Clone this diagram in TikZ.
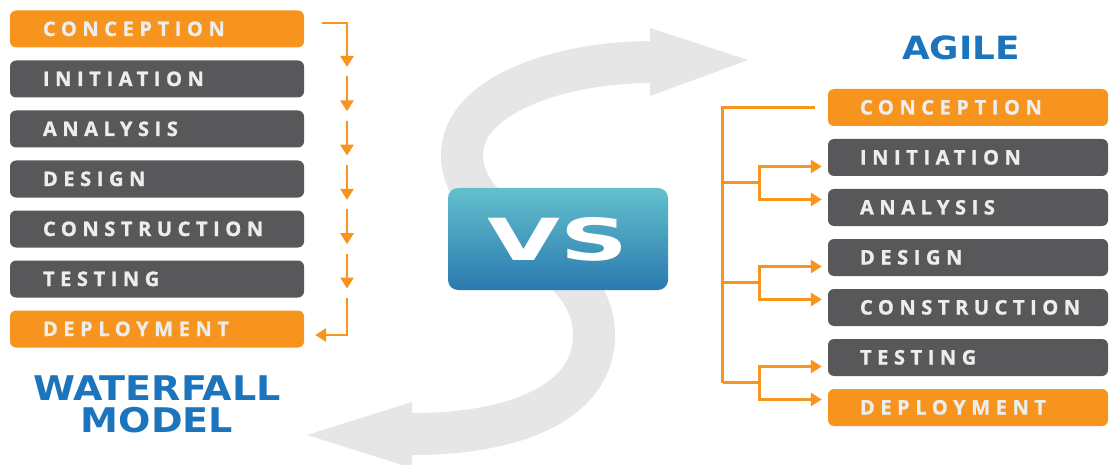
\documentclass[tikz,border=0pt]{standalone}
\usepackage{fontspec}
\usepackage{graphicx}
\usetikzlibrary{arrows.meta,calc}
\definecolor{wforange}{HTML}{F7941D}
\definecolor{wfgray}{HTML}{58585A}
\definecolor{wftext}{HTML}{EDEDED}
\definecolor{wfblue}{HTML}{1C75BC}
\definecolor{vstop}{HTML}{63BFCC}
\definecolor{vsbottom}{HTML}{2A7AB0}
\definecolor{bandgray}{HTML}{E6E6E6}
\newfontfamily\stepfont[LetterSpace=28, BoldFeatures={FakeBold=1.3}]{Open Sans}
\newfontfamily\titlefont[FakeStretch=1.12]{DejaVu Sans}
\tikzstyle{phase}=[rounded corners=6pt, minimum height=37pt, text height=14pt, text depth=0pt, align=left, text=wftext, font=\stepfont\bfseries\fontsize{20}{20}\selectfont]
\tikzstyle{wphase}=[phase, text width=228pt, inner xsep=33pt]
\tikzstyle{aphase}=[phase, text width=216pt, inner xsep=32pt]
\tikzstyle{link}=[draw=wforange, line width=2.8pt]
\tikzstyle{flow}=[link, -{Triangle[width=13pt,length=11pt]}]
\tikzstyle{fork}=[link, {Triangle[width=13pt,length=11pt]}-{Triangle[width=13pt,length=11pt]}]
\tikzstyle{modelname}=[text=wfblue, align=center, inner sep=0pt]

\begin{document}
\begin{tikzpicture}[x=1pt, y=-1pt]
    \useasboundingbox (0,0) rectangle (1110,465);
    \draw[bandgray, line width=42pt] (652,62) .. controls (560,62) and (462,95) .. (462,155)
        .. controls (462,230) and (594,250) .. (594,335) .. controls (594,400) and (520,434) .. (412,434);
    \fill[bandgray] (650,28) -- (748,60) -- (650,96) -- cycle;
    \fill[bandgray] (412,402) -- (307,435) -- (412,468) -- cycle;
    \foreach \name/\col [count=\i] in {CONCEPTION/wforange, INITIATION/wfgray, ANALYSIS/wfgray, DESIGN/wfgray, CONSTRUCTION/wfgray, TESTING/wfgray, DEPLOYMENT/wforange}
        \node[wphase, fill=\col] (w\i) at (157, {29+50*(\i-1)}) {\name};
    \foreach \name/\col [count=\i] in {CONCEPTION/wforange, INITIATION/wfgray, ANALYSIS/wfgray, DESIGN/wfgray, CONSTRUCTION/wfgray, TESTING/wfgray, DEPLOYMENT/wforange}
        \node[aphase, fill=\col] (a\i) at (968, {107.5+50*(\i-1)}) {\name};
    \node[rounded corners=10pt, minimum width=220pt, minimum height=102pt, top color=vstop, bottom color=vsbottom, text=white,
        font=\titlefont\bfseries\fontsize{58}{58}\selectfont] (vs) at (558,239) {\scalebox{1.45}[1]{VS}};
    \node[modelname, font=\titlefont\bfseries\fontsize{34}{32}\selectfont] (waterfall) at (157,404) {WATERFALL\\MODEL};
    \node[modelname, font=\titlefont\bfseries\fontsize{32}{32}\selectfont] (agile) at (961,48) {AGILE};
    \foreach \k in {1,...,6}
        \coordinate (wt\k) at (347, {67+44.3*(\k-1)});
    \foreach \k in {2,...,7}
        \coordinate (ws\k) at (347, {76.5+44.3*(\k-2)});
    \draw[flow] ($(w1.east)+(18,-6)$) -| (wt1);
    \foreach \k in {2,...,6}
        \draw[flow] (ws\k) -- (wt\k);
    \draw[flow] (ws7) |- ($(w7.east)+(11,6)$);
    \draw[link] ($(a1.west)+(-13,0)$) -| ($(a6.west)!.5!(a7.west)+(-105,0)$);
    \foreach \u/\l in {2/3, 4/5, 6/7} {
        \draw[fork] ($(a\u.west)+(-6,9)$) -| ($(a\u.west)!.5!(a\l.west)+(-68,0)$) |- ($(a\l.west)+(-6,-8)$);
        \draw[link] ($(a\u.west)!.5!(a\l.west)+(-105,0)$) -- ($(a\u.west)!.5!(a\l.west)+(-68,0)$);
    }
\end{tikzpicture}
\end{document}
